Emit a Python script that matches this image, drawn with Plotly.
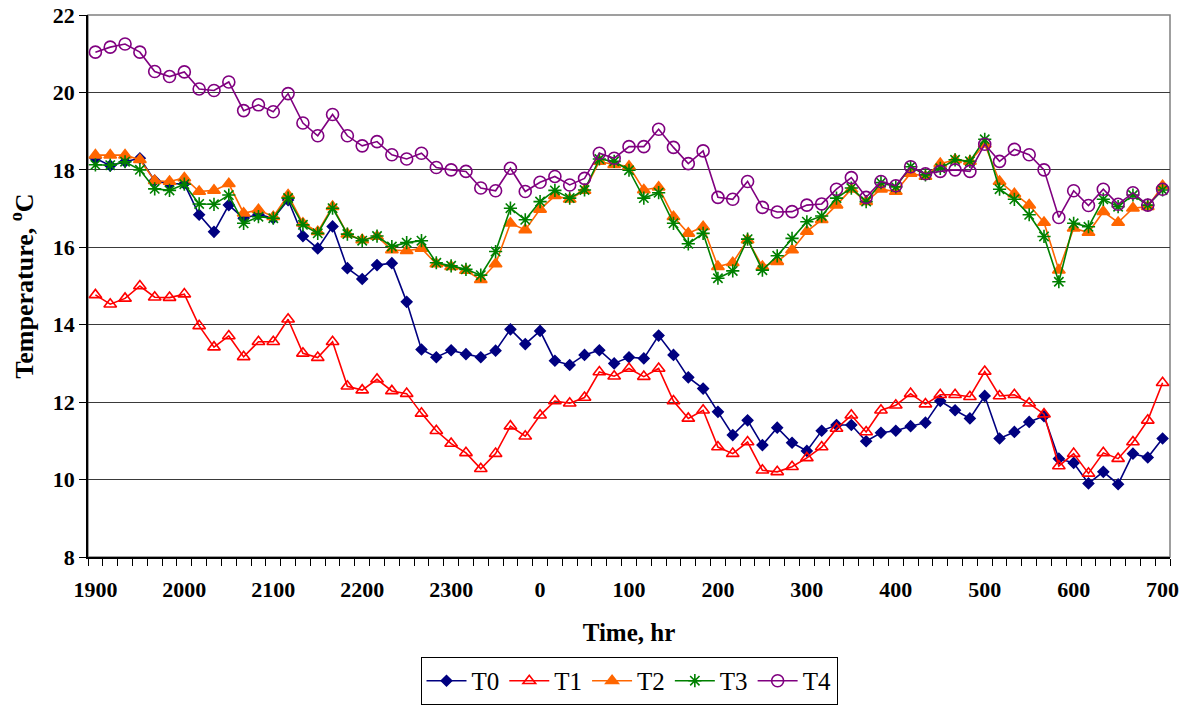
import plotly.graph_objects as go

# ---- data (73 readings, every 10 min from 1900 to 0700) ----
tick_labels = ["1900", "2000", "2100", "2200", "2300", "0", "100", "200",
               "300", "400", "500", "600", "700"]

T0 = [18.30, 18.11, 18.21, 18.30, 17.72, 17.64, 17.64, 16.84, 16.40, 17.09,
      16.75, 16.85, 16.75, 17.22, 16.29, 15.97, 16.54, 15.46, 15.18, 15.54,
      15.59, 14.59, 13.36, 13.16, 13.34, 13.24, 13.16, 13.33, 13.88, 13.50,
      13.84, 13.07, 12.96, 13.22, 13.34, 13.00, 13.16, 13.13, 13.72, 13.22,
      12.64, 12.35, 11.75, 11.15, 11.53, 10.89, 11.34, 10.95, 10.74, 11.26,
      11.41, 11.41, 10.99, 11.21, 11.26, 11.38, 11.47, 12.03, 11.79, 11.58,
      12.16, 11.06, 11.23, 11.49, 11.64, 10.54, 10.43, 9.90, 10.20, 9.88,
      10.67, 10.57, 11.06]

T1 = [14.77, 14.53, 14.68, 15.00, 14.71, 14.70, 14.79, 13.97, 13.42, 13.71,
      13.17, 13.56, 13.56, 14.14, 13.26, 13.15, 13.56, 12.41, 12.31, 12.59,
      12.29, 12.22, 11.71, 11.26, 10.93, 10.69, 10.28, 10.67, 11.38, 11.12,
      11.66, 12.03, 11.97, 12.12, 12.78, 12.67, 12.87, 12.66, 12.87, 12.03,
      11.58, 11.79, 10.84, 10.67, 10.97, 10.24, 10.20, 10.33, 10.56, 10.84,
      11.32, 11.66, 11.23, 11.79, 11.92, 12.22, 11.95, 12.19, 12.19, 12.14,
      12.79, 12.16, 12.19, 11.97, 11.69, 10.35, 10.67, 10.16, 10.69, 10.54,
      10.97, 11.53, 12.50]

T2 = [18.38, 18.38, 18.38, 18.26, 17.72, 17.70, 17.79, 17.44, 17.47, 17.64,
      16.88, 16.97, 16.79, 17.35, 16.62, 16.40, 17.05, 16.34, 16.19, 16.28,
      15.93, 15.91, 15.97, 15.57, 15.50, 15.40, 15.16, 15.57, 16.62, 16.45,
      16.98, 17.33, 17.24, 17.47, 18.22, 18.13, 18.09, 17.48, 17.55, 16.79,
      16.36, 16.53, 15.50, 15.60, 16.19, 15.50, 15.63, 15.93, 16.41, 16.71,
      17.09, 17.50, 17.18, 17.50, 17.44, 17.91, 17.83, 18.16, 18.26, 18.22,
      18.66, 17.70, 17.38, 17.09, 16.64, 15.41, 16.49, 16.38, 16.92, 16.64,
      17.01, 17.05, 17.59]

T3 = [18.13, 18.12, 18.21, 18.00, 17.51, 17.47, 17.63, 17.12, 17.11, 17.35,
      16.62, 16.79, 16.75, 17.27, 16.58, 16.36, 17.01, 16.34, 16.17, 16.29,
      16.02, 16.12, 16.17, 15.60, 15.52, 15.43, 15.28, 15.89, 17.01, 16.71,
      17.18, 17.47, 17.27, 17.48, 18.28, 18.22, 17.99, 17.27, 17.41, 16.62,
      16.09, 16.36, 15.20, 15.39, 16.21, 15.41, 15.78, 16.23, 16.66, 16.81,
      17.27, 17.53, 17.18, 17.67, 17.56, 18.08, 17.87, 18.04, 18.26, 18.22,
      18.79, 17.50, 17.24, 16.84, 16.28, 15.11, 16.62, 16.53, 17.24, 17.05,
      17.35, 17.09, 17.48]

T4 = [21.04, 21.17, 21.25, 21.04, 20.54, 20.41, 20.53, 20.09, 20.05, 20.27,
      19.53, 19.68, 19.50, 19.97, 19.21, 18.88, 19.43, 18.88, 18.62, 18.73,
      18.39, 18.28, 18.43, 18.06, 18.00, 17.96, 17.53, 17.46, 18.04, 17.44,
      17.68, 17.83, 17.61, 17.78, 18.43, 18.30, 18.60, 18.60, 19.05, 18.58,
      18.16, 18.49, 17.29, 17.24, 17.70, 17.03, 16.91, 16.92, 17.09, 17.12,
      17.50, 17.80, 17.29, 17.70, 17.59, 18.08, 17.90, 17.96, 18.00, 17.96,
      18.66, 18.22, 18.53, 18.39, 18.00, 16.77, 17.46, 17.08, 17.50, 17.11,
      17.41, 17.09, 17.50]

x = list(range(len(T0)))
n = len(x)
label_step = 6

FONT = "Liberation Serif"

series = [
    ("T0", T0, "#000080", "diamond", 8),
    ("T1", T1, "#FF0000", "triangle-up-open", 11),
    ("T2", T2, "#FF6600", "triangle-up", 11),
    ("T3", T3, "#008000", "asterisk-open", 11),
    ("T4", T4, "#800080", "circle-open", 12),
]

fig = go.Figure()
for name, vals, color, sym, size in series:
    fig.add_trace(go.Scatter(
        x=x, y=vals, name=name, mode="lines+markers",
        line=dict(color=color, width=1.6),
        marker=dict(symbol=sym, size=size, color=color,
                    line=dict(color=color, width=1.6)),
    ))

fig.add_shape(type="rect", xref="paper", yref="paper", x0=0, y0=0, x1=1, y1=1,
              line=dict(color="#808080", width=1.5), layer="below")

fig.update_layout(
    width=1191, height=707,
    margin=dict(l=88, r=21, t=15, b=150, autoexpand=False),
    paper_bgcolor="white", plot_bgcolor="white",
    font=dict(family=FONT, color="black"),
    showlegend=True,
    legend=dict(orientation="h", x=0.5, xanchor="center", y=-0.273, yanchor="bottom",
                font=dict(family=FONT, size=25, color="black"),
                bordercolor="black", borderwidth=1, bgcolor="white",
                itemwidth=40, tracegroupgap=0),
)

fig.update_xaxes(
    automargin=False,
    range=[-0.5, n - 0.5],
    tickmode="array",
    tickvals=[i * label_step for i in range(len(tick_labels))],
    ticktext=tick_labels,
    ticks="",
    tickfont=dict(family=FONT, size=22, color="black", weight="bold"),
    ticklabelstandoff=12,
    showgrid=False, zeroline=False,
    showline=True, linecolor="black", linewidth=1.5,
    minor=dict(tickmode="array", tickvals=[i - 0.5 for i in range(n + 1)],
               ticks="outside", ticklen=7, tickcolor="black", tickwidth=1,
               showgrid=False),
    title=dict(text="Time, hr", font=dict(family=FONT, size=25, color="black",
                                          weight="bold"), standoff=22),
)

fig.update_yaxes(
    automargin=False,
    range=[8, 22], dtick=2, tick0=8,
    ticks="outside", ticklen=7, tickcolor="black", tickwidth=1,
    tickfont=dict(family=FONT, size=22, color="black", weight="bold"),
    showgrid=True, gridcolor="#3a3a3a", gridwidth=1,
    zeroline=False,
    showline=True, linecolor="black", linewidth=1.5,
    title=dict(text="Temperature, <sup>o</sup>C",
               font=dict(family=FONT, size=26, color="black", weight="bold"),
               standoff=12),
)

fig.write_html("out.html")
